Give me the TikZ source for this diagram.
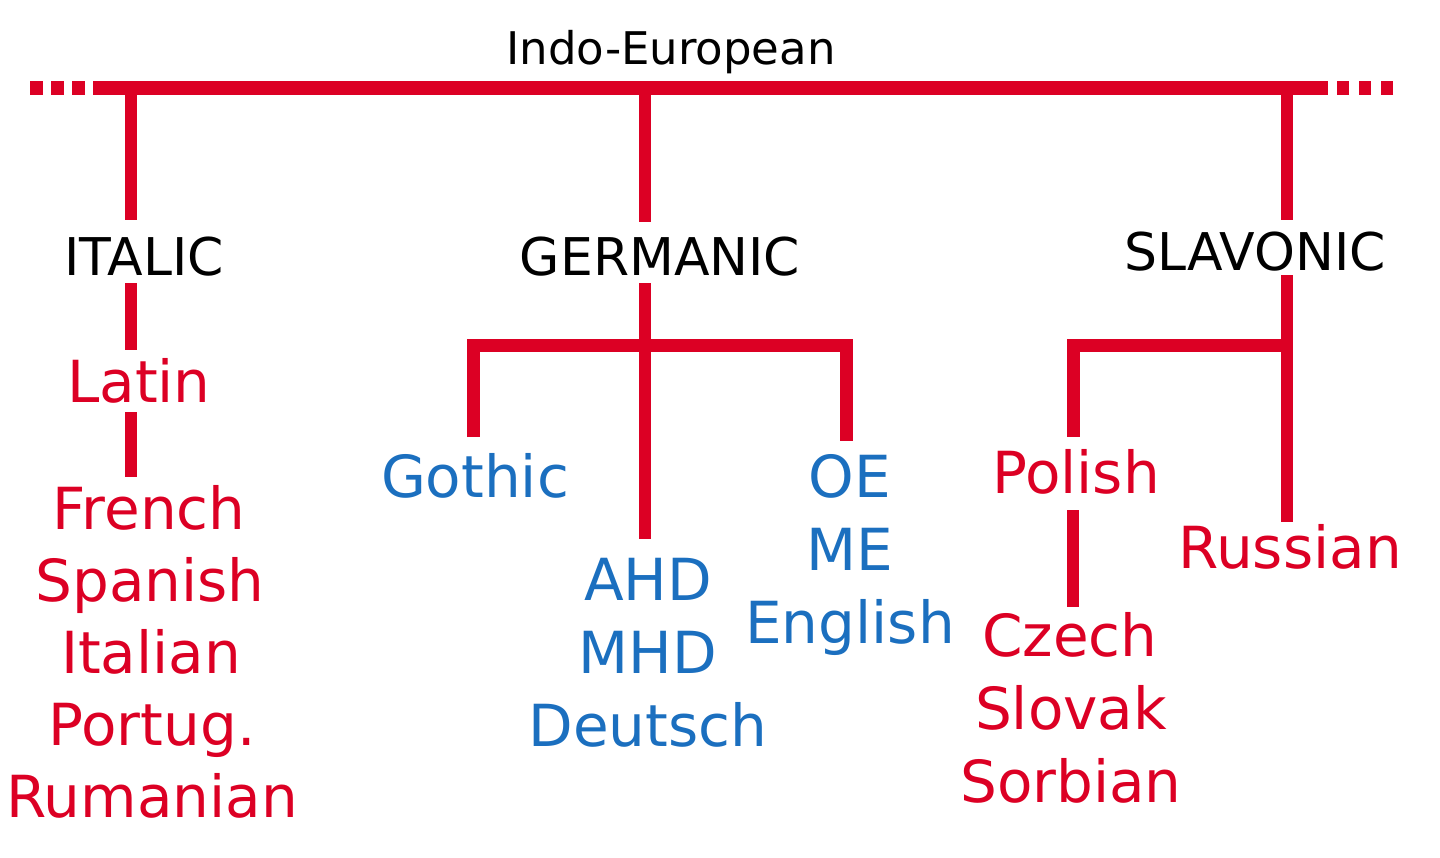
\documentclass[tikz,border=0pt]{standalone}
\usepackage{fontspec}
\setmainfont{DejaVu Sans}
\usetikzlibrary{calc}
\definecolor{tred}{HTML}{DC0024}
\definecolor{tblue}{HTML}{1B6FBF}
\begin{document}
\begin{tikzpicture}[x=1pt,y=-1pt,
  every node/.style={inner sep=0pt, outer sep=0pt, anchor=base},
  top/.style={font=\fontsize{45}{54}\selectfont, text=black},
  branch/.style={font=\fontsize{52}{62}\selectfont, text=black, text height=38pt, text depth=0pt},
  redlang/.style={font=\fontsize{58}{70}\selectfont, text=tred, text height=42pt, text depth=0pt},
  bluelang/.style={font=\fontsize{58}{70}\selectfont, text=tblue, text height=42pt, text depth=0pt},
  mainbar/.style={draw=tred, line width=14pt, line cap=butt},
  dotbar/.style={draw=tred, line width=14pt, line cap=butt, dash pattern=on 13pt off 8pt},
  vline/.style={draw=tred, line width=12pt, line cap=butt},
  subbar/.style={draw=tred, line width=13pt, line cap=butt, line join=miter}]
\useasboundingbox (0,0) rectangle (1440,857);

% texts
\node[top] (ie) at (671,64) {Indo-European};
\node[branch] (italic) at (144,275) {ITALIC};
\node[branch] (germanic) at (660,275) {GERMANIC};
\node[branch] (slavonic) at (1255,270) {SLAVONIC};

\node[redlang] (latin) at (139,402) {Latin};
\node[redlang] (french) at (149,529) {French};
\node[redlang] (spanish) at (150,601) {Spanish};
\node[redlang] (italian) at (151,673) {Italian};
\node[redlang] (portug) at (152,745) {Portug.};
\node[redlang] (rumanian) at (152,817) {Rumanian};

\node[bluelang] (gothic) at (475,497) {Gothic};
\node[bluelang] (oe) at (850,497) {OE};
\node[bluelang] (me) at (850,570) {ME};
\node[bluelang] (english) at (850,643) {English};
\node[bluelang] (ahd) at (648,600) {AHD};
\node[bluelang] (mhd) at (648,673) {MHD};
\node[bluelang] (deutsch) at (648,746) {Deutsch};

\node[redlang] (polish) at (1076,493) {Polish};
\node[redlang] (czech) at (1070,656) {Czech};
\node[redlang] (slovak) at (1071,729) {Slovak};
\node[redlang] (sorbian) at (1071,802) {Sorbian};
\node[redlang] (russian) at (1290,568) {Russian};

% main bar
\coordinate (barL) at (94,88);
\coordinate (barR) at (1328,88);
\coordinate (dotL) at (30,88);
\coordinate (dotR) at (1393,88);
\draw[mainbar] (barL) -- (barR);
\draw[dotbar] (dotL) -- (barL);
\draw[dotbar, dash pattern=on 12pt off 10pt] (dotR) -- (barR);

% junctions on the main bar
\coordinate (jI) at (131,88);
\coordinate (jG) at (645,88);
\coordinate (jS) at (1287,88);

% Italic branch
\draw[vline] (jI) -- ($(jI |- italic.north)+(0,-17)$);
\draw[vline] ($(jI |- italic.south)+(0,8)$) -- ($(jI |- latin.north)+(0,-10)$);
\draw[vline] ($(jI |- latin.south)+(0,10)$) -- ($(jI |- french.north)+(0,-10)$);

% Germanic branch
\coordinate (gL) at (473,345);
\coordinate (gR) at (846,345);
\draw[vline] (jG) -- ($(jG |- germanic.north)+(0,-15)$);
\draw[vline] ($(jG |- germanic.south)+(0,8)$) -- ($(jG |- ahd.north)+(0,-19)$);
\draw[subbar] ($(gL |- gothic.north)+(0,-18)$) -- (gL) -- (gR) -- ($(gR |- oe.north)+(0,-14)$);

% Slavonic branch
\coordinate (sL) at (1073,345);
\coordinate (sR) at (1287,345);
\draw[vline] (jS) -- ($(jS |- slavonic.north)+(0,-12)$);
\draw[vline] ($(jS |- slavonic.south)+(0,5)$) -- ($(jS |- russian.north)+(0,-4)$);
\draw[subbar] (sR) -- (sL) -- ($(sL |- polish.north)+(0,-14)$);
\draw[vline] ($(sL |- polish.south)+(0,17)$) -- ($(sL |- czech.north)+(0,-7)$);
\end{tikzpicture}
\end{document}
